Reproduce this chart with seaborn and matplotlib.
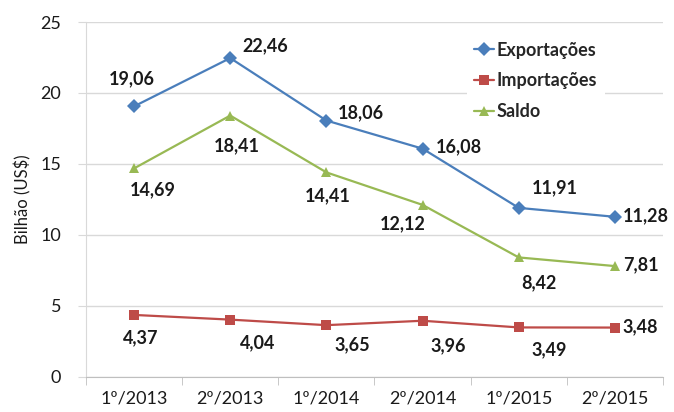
import pandas as pd
import seaborn as sns
import matplotlib.pyplot as plt

periods = ["1º/2013", "2º/2013", "1º/2014", "2º/2014", "1º/2015", "2º/2015"]
exportacoes = [19.06, 22.46, 18.06, 16.08, 11.91, 11.28]
importacoes = [4.37, 4.04, 3.65, 3.96, 3.49, 3.48]
saldo = [14.69, 18.41, 14.41, 12.12, 8.42, 7.81]
series_names = ["Exportações", "Importações", "Saldo"]
colors = ["#4A7EBB", "#BE4B48", "#98B954"]
markers = ["D", "s", "^"]

# label offsets in pixels (dx, dy), picked to match the excel-ish label placement
offsets = {
    "Exportações": [(-2, 28), (35, 12), (34, 8), (36, 2), (36, 20), (30, 1)],
    "Importações": [(7, -23), (27, -23), (26, -20), (26, -25), (30, -22), (28, 1)],
    "Saldo": [(19, -21), (7, -30), (1, -23), (-20, -19), (20, -25), (28, 1)],
}

df = pd.DataFrame({
    "periodo": list(range(len(periods))) * 3,
    "valor": exportacoes + importacoes + saldo,
    "serie": [s for s in series_names for _ in periods],
})

sns.set_style("white")
plt.rcParams["font.family"] = ["Lato", "DejaVu Sans"]

fig = plt.figure(figsize=(6.74, 4.12), dpi=100)
ax = fig.add_axes([0.1276, 0.085, 0.856, 0.8616])

sns.lineplot(
    data=df, x="periodo", y="valor", hue="serie", style="serie",
    hue_order=series_names, style_order=series_names,
    palette=dict(zip(series_names, colors)),
    markers=dict(zip(series_names, markers)), dashes=False,
    linewidth=1.6, markersize=7, markeredgewidth=0, ax=ax,
)

for name in series_names:
    vals = df[df["serie"] == name]["valor"].tolist()
    for i, v in enumerate(vals):
        dx, dy = offsets[name][i]
        ha = "left" if (i == 5 and abs(dy) < 5) else "center"
        if ha == "left":
            dx = 8
        ax.annotate(f"{v:.2f}".replace(".", ","), (i, v),
                    xytext=(dx, dy), textcoords="offset pixels",
                    ha=ha, va="center", fontsize=13, fontweight="bold",
                    color="#1a1a1a")

ax.set_xlim(-0.5, 5.5)
ax.set_ylim(0, 25)
ax.set_yticks([0, 5, 10, 15, 20, 25])
ax.set_xticks(range(len(periods)))
ax.set_xticklabels(periods)
ax.set_xticks([x - 0.5 for x in range(len(periods) + 1)], minor=True)
ax.tick_params(axis="x", which="major", length=0, pad=10, labelsize=13, labelcolor="#1a1a1a")
ax.tick_params(axis="x", which="minor", length=6, color="#BFBFBF", direction="out", bottom=True)
ax.tick_params(axis="y", length=6, color="#D9D9D9", direction="out", left=True, pad=12,
               labelsize=13, labelcolor="#1a1a1a")
ax.yaxis.grid(True, color="#D9D9D9", linewidth=1)
ax.set_axisbelow(True)

for s in ["top", "right"]:
    ax.spines[s].set_visible(False)
ax.spines["left"].set_color("#D9D9D9")
ax.spines["bottom"].set_color("#BFBFBF")

ax.set_xlabel("")
ax.set_ylabel("Bilhão (US$)", fontsize=12, color="#1a1a1a", labelpad=6)

leg = ax.legend(loc="upper left", bbox_to_anchor=(0.645, 0.99), frameon=True,
                fancybox=False, edgecolor="none", facecolor="white", framealpha=1,
                handlelength=1.1, handletextpad=0.15, labelspacing=0.75,
                prop={"size": 13, "weight": "bold"})

fig.savefig("out.png", dpi=100)
